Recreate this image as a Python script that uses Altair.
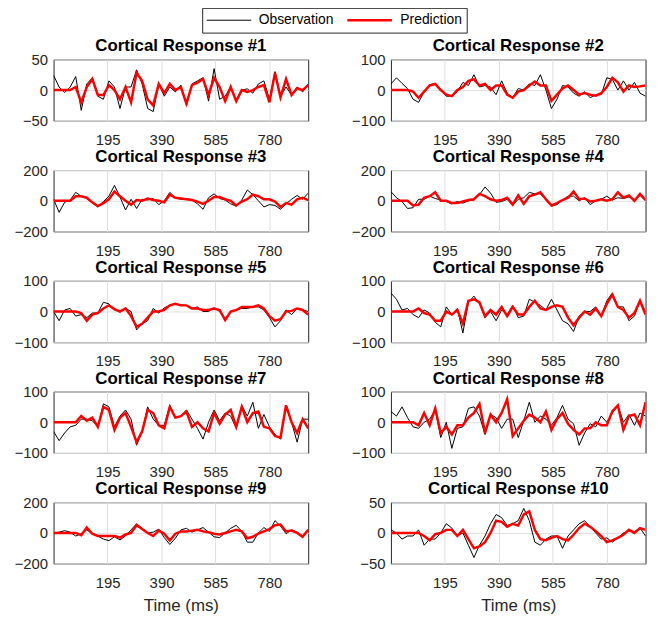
import altair as alt
import pandas as pd

# ---------------- data ----------------
TIMES = [0, 20, 40, 60, 80, 100, 120, 140, 160, 180, 200, 220, 240, 260, 280, 300,
         320, 340, 360, 380, 400, 420, 440, 460, 480, 500, 520, 540, 560, 580, 600,
         620, 640, 660, 680, 700, 720, 740, 760, 780, 800, 820, 840, 860, 880, 900, 920]

TITLES = ["Cortical Response #1", "Cortical Response #2", "Cortical Response #3",
          "Cortical Response #4", "Cortical Response #5", "Cortical Response #6",
          "Cortical Response #7", "Cortical Response #8", "Cortical Response #9",
          "Cortical Response #10"]

Y_LIMITS = [50, 100, 200, 200, 100, 100, 100, 100, 200, 50]
X_TICKS = [195, 390, 585, 780]
SERIES = ["Observation", "Prediction"]

OBS1 = [24, 5, -4, 5, 22, -33, 10, 20, -10, -15, 15, 5, -30, 5, 5, 33, 10, -30, -35, 10, -10, 5, -3, 8, -25, 10, 15, 20, -18, 35, -15, -10, 5, -18, 0, 2, -5, 10, 15, -15, 30, -10, 5, -8, 5, -3, 10]
PRED1 = [0, 0, 0, 0, 5, -20, 5, 18, -8, -8, 8, 0, -15, 5, -20, 28, 15, -15, -25, 10, -5, 10, 0, 5, -22, 8, 12, 18, -8, 20, 5, -18, 5, -18, 0, -3, 0, 5, 8, -20, 28, -12, 18, -8, 3, 0, 8]
OBS2 = [20, 40, 22, 5, -30, -40, -5, 15, 22, 0, -20, -20, -5, 25, 15, 50, 10, 15, 10, -15, 30, -10, -25, 5, 0, 20, 15, 50, 0, -60, -30, 15, 10, -10, -20, -5, -25, -15, -15, 40, 35, 0, 30, 0, 25, -10, -20]
PRED2 = [0, 0, 0, 0, -5, -25, -5, 15, 20, 0, -15, -20, 0, 10, 30, 35, 15, 20, 0, 15, 15, -15, -25, -5, 0, 15, 28, 15, 15, -35, -15, 5, 15, 0, -15, -10, -15, -18, -10, 10, 40, 25, -5, 15, 10, 12, 15]
OBS3 = [10, -75, -10, 5, 55, 30, 15, -15, -40, -5, 30, 100, 25, -60, 10, -50, 10, 5, 15, -25, 0, 55, 20, 10, 15, 5, -20, -55, 20, 45, 15, 5, -20, -35, 5, 70, 40, 0, -40, -25, -30, -55, -20, 10, 35, 10, 50]
PRED3 = [0, 0, 0, 0, 30, 30, 20, -10, -35, -15, 10, 60, 30, 0, -25, 5, 0, 15, 5, 0, -10, 40, 20, 15, 10, 5, -5, -20, 0, 25, 25, 10, 0, -30, -5, 10, 40, 30, 10, 10, -5, -40, -15, -25, 10, 20, 5]
OBS4 = [60, 20, -5, -50, -45, 10, 10, 30, 15, 5, -5, -20, -5, -15, 0, 5, 40, 90, 50, -10, -5, 10, -30, 10, 20, 55, 45, 45, 5, -35, -25, 5, 30, 30, 0, 20, -25, 0, 10, 30, 5, 20, 15, 25, 10, 35, 0]
PRED4 = [0, 0, 0, 0, -30, -25, 20, 30, 55, 0, 0, -15, -15, -5, 5, 10, 45, 30, 10, 0, 5, 20, -25, 35, -20, 30, 40, 55, 10, -30, -15, 5, 20, 60, 10, 15, -5, 0, 10, 0, 10, 55, 20, 35, 0, 45, 5]
OBS5 = [0, -30, 5, 10, -15, -10, -20, -5, -5, 30, 25, 5, 0, 10, 0, -60, -40, -30, 10, -5, 12, 20, 25, 22, 20, 10, 15, 0, 0, 12, 0, -25, 0, 5, 10, 10, 15, 15, 5, -20, -50, -30, 5, -10, 10, 5, 0]
PRED5 = [0, 0, 0, 0, 0, -5, -30, -10, -5, 10, 20, 8, 0, 10, -15, -50, -40, -20, 0, 0, 5, 20, 25, 20, 20, 10, 10, 5, 5, 10, 5, -28, 0, 5, 15, 15, 15, 20, 10, -15, -30, -25, 0, 2, 10, 5, -10]
OBS6 = [60, 40, 5, 10, -10, -20, 5, -5, -35, -50, 15, -10, 10, -70, 30, 50, 25, -20, 0, -30, 5, -10, 20, -20, -15, 40, 30, 20, 5, 40, 5, -30, -40, -65, -15, 0, 0, 15, -15, 35, 60, 15, 15, -30, -15, 35, 0]
PRED6 = [0, 0, 0, 0, 0, 10, -5, -10, -30, -30, 0, -10, 5, -40, 35, 40, 30, -15, 5, -10, 15, -15, 15, -10, -10, 15, 35, 10, 5, 15, 20, 15, -20, -45, -20, 0, -10, 10, -15, 25, 55, 15, 5, -20, -5, 35, -10]
OBS7 = [-30, -60, -35, -15, -10, 10, 10, 5, -15, 60, 50, -15, 20, 40, 10, -75, -30, 50, 10, -10, -10, 55, 15, 20, 40, 10, -20, -55, 0, 40, 5, 30, 20, -20, 55, 20, 65, -20, 25, -15, -40, -55, 55, 0, -65, 10, 10]
PRED7 = [0, 0, 0, 0, 0, 20, 5, 15, -15, 50, 40, -25, 15, 30, -15, -65, -30, 40, 30, -10, -20, 50, 15, 20, 35, -15, 0, -20, -30, 30, -5, 25, 40, -15, 50, 0, 30, 35, -15, -20, -45, -50, 55, 0, -35, 10, -20]
OBS8 = [35, 20, 50, 15, -15, -20, 0, 10, 40, -50, 0, -85, -20, -15, 45, 50, 20, -40, 25, 15, -20, 10, 10, -50, 5, 65, 0, 20, 10, -10, 15, 55, 10, -5, -75, -35, -5, -15, 20, 0, 30, 55, 0, 25, -10, 30, 20]
PRED8 = [0, 0, 0, 0, 0, -10, 30, -10, 45, -35, -15, -40, -10, -10, 15, 30, 60, -35, 25, 0, 30, 75, -45, -20, 5, 25, 15, 0, 35, -25, 10, 30, -5, -25, -40, -20, -20, 0, -10, -10, 35, 55, -25, 20, 25, -10, 65]
OBS9 = [0, 5, 15, 5, -20, -5, 20, -5, -20, -40, -50, -25, -45, -20, 20, 60, 30, 0, 5, 25, -30, -75, -35, 20, 30, 5, 20, 35, 5, -25, -30, 0, 30, 50, 10, -60, -60, 0, 35, 10, 80, 45, -5, 20, 5, -20, 20]
PRED9 = [0, 0, 0, 0, 0, -15, 35, -5, -20, -20, -20, -20, -30, -10, 0, 50, 25, 0, -20, 15, -5, -50, -5, 10, 10, 15, 20, 10, 5, -5, -10, 0, 10, 20, 10, -35, -25, -5, 10, 25, 50, 55, 10, 15, 0, -25, 20]
OBS10 = [5, 0, -10, -5, -5, 5, -20, -10, -10, 0, 15, 8, -5, 0, -20, -40, -20, -5, 15, 30, 25, 12, 15, 20, 40, 20, -15, -20, -10, -5, -5, -25, -5, 5, 15, 20, 10, 0, -10, -8, -15, -8, 0, 3, 2, 8, -5]
PRED10 = [0, 0, 0, 0, 0, 0, -5, -12, -2, 0, 5, 5, -5, 5, -10, -25, -22, -15, 0, 20, 18, 10, 15, 12, 30, 35, 5, -10, -12, -8, -5, -10, -12, -3, 8, 15, 10, 3, -5, -15, -12, -8, -3, 5, 0, 8, 5]

OBS = [OBS1, OBS2, OBS3, OBS4, OBS5, OBS6, OBS7, OBS8, OBS9, OBS10]
PRED = [PRED1, PRED2, PRED3, PRED4, PRED5, PRED6, PRED7, PRED8, PRED9, PRED10]

# ---------------- styling ----------------
FONT = "Liberation Sans"
AXIS_GRAY = "#262626"
GRID = "#dedede"

LEGEND = alt.Legend(
    orient="none", legendX=150, legendY=-52, direction="horizontal", title=None,
    symbolType="stroke", symbolSize=2025, clipHeight=17, labelOffset=7,
    columnPadding=12, padding=4, strokeColor=AXIS_GRAY, fillColor="white",
    labelFont=FONT, labelFontSize=14, labelColor="#000000",
)


def panel(i):
    rows = []
    for name, vals in ((SERIES[0], OBS[i]), (SERIES[1], PRED[i])):
        for t, v in zip(TIMES, vals):
            rows.append({"t": t, "v": v, "series": name})
    df = pd.DataFrame(rows)
    lim = Y_LIMITS[i]
    bottom = i >= 8
    xaxis = dict(values=X_TICKS, grid=True, ticks=False, domain=False,
                 labelPadding=12, labelFlush=False)
    if bottom:
        xaxis.update(title="Time (ms)", titleFont=FONT, titleFontSize=17,
                     titleFontWeight="normal", titleColor=AXIS_GRAY, titlePadding=7)
    else:
        xaxis.update(title=None)
    return alt.Chart(df).mark_line(clip=True).encode(
        x=alt.X("t:Q", scale=alt.Scale(domain=[0, 920], nice=False, zero=False),
                axis=alt.Axis(**xaxis)),
        y=alt.Y("v:Q", scale=alt.Scale(domain=[-lim, lim], nice=False, zero=False),
                axis=alt.Axis(values=[-lim, 0, lim], title=None, grid=True, ticks=False,
                              domain=False, labelPadding=6)),
        color=alt.Color("series:N", scale=alt.Scale(domain=SERIES, range=["#000000", "#ff0000"]),
                        legend=LEGEND),
        strokeWidth=alt.StrokeWidth("series:N", scale=alt.Scale(domain=SERIES, range=[1.0, 2.5]),
                                    legend=LEGEND),
    ).properties(
        width=257, height=62,
        title=alt.TitleParams(TITLES[i], font=FONT, fontSize=17, fontWeight="bold",
                              color="#000000", anchor="middle", frame="group", offset=-3),
    )


chart = alt.concat(*[panel(i) for i in range(10)], columns=2,
                   spacing={"row": -1.25, "column": 41.5}).properties(
    padding={"left": 5, "top": -4, "right": 5, "bottom": 0},
    background="white",
).configure_view(
    stroke=AXIS_GRAY, strokeWidth=1,
).configure_axis(
    labelFont=FONT, labelFontSize=15, labelColor=AXIS_GRAY,
    gridColor=GRID, gridWidth=1,
)

chart.save("out.html", embed_options={"renderer": "svg", "actions": False})
